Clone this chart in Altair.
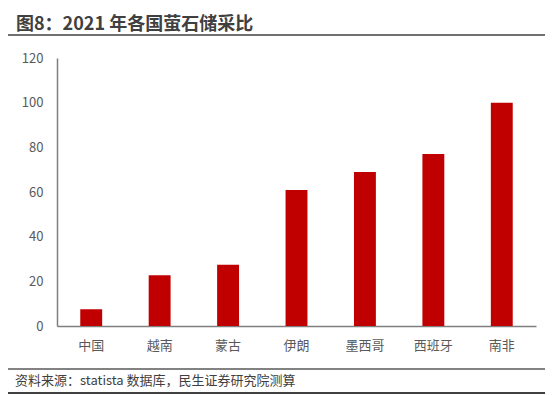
import altair as alt
import pandas as pd

countries = ["中国", "越南", "蒙古", "伊朗", "墨西哥", "西班牙", "南非"]
ratios = [7.5, 22.7, 27.4, 60.9, 69.0, 77.0, 100.0]
y_ticks = [0, 20, 40, 60, 80, 100, 120]
title_text = "图8：2021 年各国萤石储采比"
source_text = "资料来源：statista 数据库，民生证券研究院测算"

df = pd.DataFrame({"country": countries, "ratio": ratios})
FONT = "Noto Sans CJK SC"

bars = alt.Chart(df).mark_bar(color="#C00000").encode(
    x=alt.X("country:N", sort=countries,
            scale=alt.Scale(paddingInner=0.68, paddingOuter=0.34),
            axis=alt.Axis(title=None, labelAngle=0, ticks=False, labelPadding=13,
                          labelFontSize=13, labelColor="#595959", labelFont=FONT,
                          domainColor="#7f7f7f", domainWidth=1.5)),
    y=alt.Y("ratio:Q", scale=alt.Scale(domain=[0, 120], nice=False),
            axis=alt.Axis(title=None, values=y_ticks, ticks=False, grid=False,
                          labelPadding=14, labelFontSize=13, labelColor="#595959",
                          labelFont=FONT, domainColor="#7f7f7f", domainWidth=1.5)),
)

one = alt.Data(values=[{"a": 1}])

title = alt.Chart(one).mark_text(
    text=title_text, align="left", baseline="middle", font=FONT,
    fontSize=18, fontWeight="bold", color="#404040"
).encode(x=alt.value(-41), y=alt.value(-33))

title_line = alt.Chart(one).mark_rule(color="#404040", strokeWidth=1.5).encode(
    x=alt.value(-52), x2=alt.value(500), y=alt.value(-23))

source_line = alt.Chart(one).mark_rule(color="#595959", strokeWidth=1.5).encode(
    x=alt.value(-52), x2=alt.value(500), y=alt.value(311))

source = alt.Chart(one).mark_text(
    text=source_text, align="left", baseline="middle", font=FONT,
    fontSize=13, color="#404040"
).encode(x=alt.value(-42), y=alt.value(323))

bottom_line = alt.Chart(one).mark_rule(color="#000000", strokeWidth=1.5).encode(
    x=alt.value(-52), x2=alt.value(500), y=alt.value(335))

chart = alt.layer(bars, title_line, title, source_line, source, bottom_line).properties(
    width=479, height=268,
    autosize=alt.AutoSizeParams(type="none"),
    padding={"left": 49, "top": 50, "right": 9, "bottom": 69},
).configure_view(stroke=None)

chart.save("out.html", embed_options={"renderer": "svg", "actions": False})
